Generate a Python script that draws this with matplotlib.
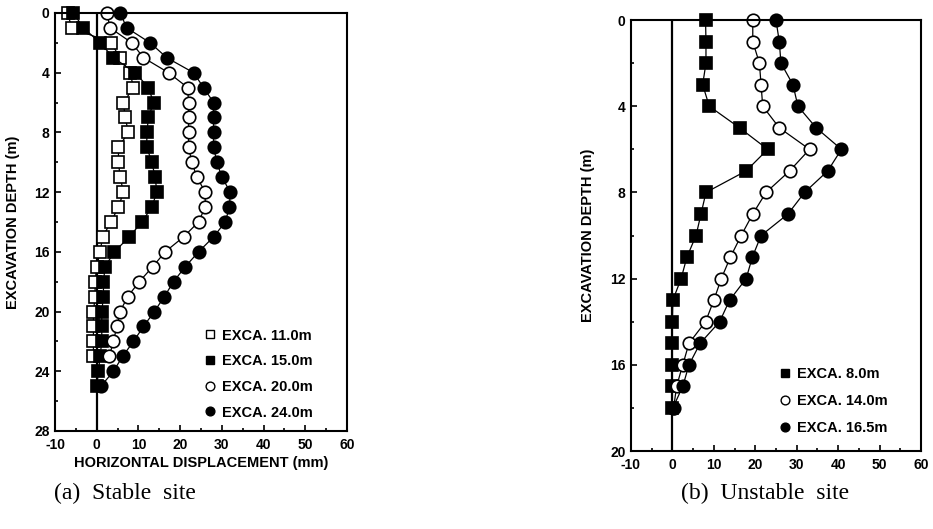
import matplotlib
matplotlib.use("Agg")
import matplotlib.pyplot as plt
from matplotlib.lines import Line2D
from matplotlib.ticker import MultipleLocator

plt.rcParams['font.family'] = ['Liberation Sans', 'DejaVu Sans']
plt.rcParams['axes.unicode_minus'] = False

# (a) stable site -- depth (m) vs horizontal displacement (mm)
a_11 = [-7, -6, 3.5, 5.5, 8, 8.8, 6.4, 6.8, 7.6, 5.2, 5.2, 5.6, 6.4, 5.2, 3.4, 1.4,
        0.8, 0, -0.4, -0.4, -0.8, -0.8, -0.8, -0.8]
a_15 = [-5.6, -3.2, 0.8, 4.0, 9.2, 12.4, 13.6, 12.4, 12, 12, 13.2, 14, 14.4, 13.2,
        10.8, 7.8, 4.2, 2.0, 1.6, 1.6, 1.2, 1.2, 1.2, 0.8, 0.4, 0]
a_20 = [2.4, 3.2, 8.4, 11.2, 17.2, 21.8, 22, 22, 22, 22, 22.8, 24, 26, 26, 24.4,
        20.8, 16.4, 13.4, 10.2, 7.4, 5.6, 4.8, 4.0, 3.0]
a_24 = [5.6, 7.2, 12.8, 16.8, 23.2, 25.6, 28, 28, 28, 28, 28.8, 30, 32, 31.8, 30.8,
        28, 24.4, 21.2, 18.4, 16.2, 13.8, 11.2, 8.8, 6.2, 4.0, 1.0]

# (b) unstable site
b_8 = [8, 8.1, 8.1, 7.3, 8.9, 16.2, 23, 17.8, 8.1, 6.9, 5.7, 3.5, 2.1, 0.1, 0, 0,
       0, 0, 0]
b_14 = [19.4, 19.4, 21, 21.4, 21.8, 25.8, 33.1, 28.3, 22.6, 19.4, 16.6, 14, 11.8,
        10, 8, 4, 2.5, 1.0, 0.3]
b_165 = [25, 25.8, 26.2, 29.1, 30.3, 34.7, 40.8, 37.5, 31.9, 27.9, 21.4, 19.3, 17.8,
         13.8, 11.4, 6.7, 4.0, 2.5, 0.1]

labels_a = ["EXCA. 11.0m", "EXCA. 15.0m", "EXCA. 20.0m", "EXCA. 24.0m"]
labels_b = ["EXCA. 8.0m", "EXCA. 14.0m", "EXCA. 16.5m"]

styles = {
    "open_sq": dict(marker="s", mfc="white", mec="black", ms=8.2),
    "fill_sq": dict(marker="s", mfc="black", mec="black", ms=8.2),
    "open_ci": dict(marker="o", mfc="white", mec="black", ms=9),
    "fill_ci": dict(marker="o", mfc="black", mec="black", ms=9),
}

fig = plt.figure(figsize=(9.33, 5.29), dpi=100)
ax1 = fig.add_axes([0.0590, 0.1853, 0.3130, 0.7902])
ax2 = fig.add_axes([0.6763, 0.1474, 0.3108, 0.8147])

def draw(ax, series, ymax):
    for xs, st in series:
        d = list(range(len(xs)))
        ax.plot(xs, d, color="black", lw=0.9, mew=1.2, clip_on=False, **st)
    ax.axvline(0, color="black", lw=1.6, zorder=1)
    ax.set_xlim(-10, 60)
    ax.set_ylim(ymax, 0)
    ax.xaxis.set_major_locator(MultipleLocator(10))
    ax.xaxis.set_minor_locator(MultipleLocator(5))
    ax.yaxis.set_major_locator(MultipleLocator(4))
    ax.yaxis.set_minor_locator(MultipleLocator(2))
    ax.tick_params(which="both", direction="in", top=False, right=False,
                   width=1.2)
    ax.tick_params(which="major", length=4, labelsize=10)
    ax.tick_params(axis="x", which="major", pad=5)
    ax.tick_params(axis="y", which="major", pad=4)
    ax.tick_params(which="minor", length=2.5)
    for lab in ax.get_xticklabels() + ax.get_yticklabels():
        lab.set_fontweight("bold")
    for sp in ax.spines.values():
        sp.set_linewidth(1.5)
    ax.set_ylabel("EXCAVATION DEPTH (m)", fontsize=10.5, fontweight="bold")

def legend(ax, keys, labels, anchor, spacing):
    handles = [Line2D([], [], ls="none", color="black",
                      **dict(styles[k], ms=styles[k]["ms"] * 0.7)) for k in keys]
    ax.legend(handles, labels, loc="upper left", bbox_to_anchor=anchor,
              frameon=False, handlelength=0.8, handletextpad=0.45,
              labelspacing=spacing, borderpad=0, borderaxespad=0,
              prop=dict(weight="bold", size=10.5))

draw(ax1, [(a_11, styles["open_sq"]), (a_15, styles["fill_sq"]),
           (a_20, styles["open_ci"]), (a_24, styles["fill_ci"])], 28)
ax1.set_xlabel("HORIZONTAL DISPLACEMENT (mm)", fontsize=10.5, fontweight="bold",
               labelpad=3)
ax1.yaxis.set_label_coords(-0.12, 0.5)
legend(ax1, ["open_sq", "fill_sq", "open_ci", "fill_ci"], labels_a,
       (0.51, 0.245), 0.8)

draw(ax2, [(b_8, styles["fill_sq"]), (b_14, styles["open_ci"]),
           (b_165, styles["fill_ci"])], 20)
ax2.yaxis.set_label_coords(-0.125, 0.5)
legend(ax2, ["fill_sq", "open_ci", "fill_ci"], labels_b, (0.51, 0.195), 0.9)

fig.text(0.134, 0.068, "(a)  Stable  site", ha="center", va="center",
         family="Liberation Serif", fontsize=17)
fig.text(0.82, 0.068, "(b)  Unstable  site", ha="center", va="center",
         family="Liberation Serif", fontsize=17)

fig.savefig("out.png", dpi=100)
